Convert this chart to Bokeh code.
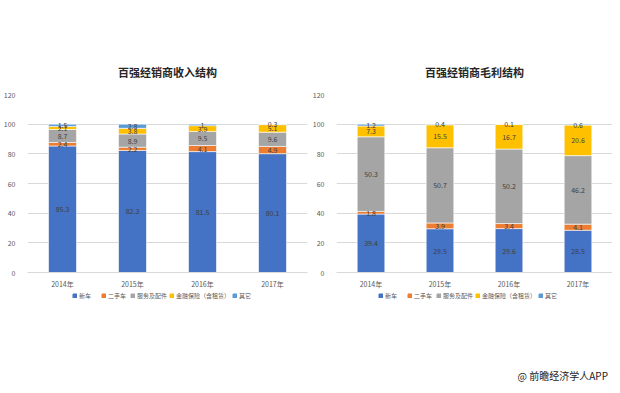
from bokeh.plotting import figure
from bokeh.models import ColumnDataSource, FixedTicker, Range1d, Legend, Div
from bokeh.layouts import row, column
from bokeh.core.properties import value
from bokeh.embed import file_html
from bokeh.resources import INLINE

years = ["2014年", "2015年", "2016年", "2017年"]
series_names = ["新车", "二手车", "服务及配件", "金融保险（含租赁）", "其它"]
colors = ["#4472C4", "#ED7D31", "#A5A5A5", "#FFC000", "#5B9BD5"]

# 百强经销商收入结构
rev_new = [85.3, 82.3, 81.5, 80.1]
rev_used = [2.4, 2.2, 4.1, 4.9]
rev_service = [8.7, 8.9, 9.5, 9.6]
rev_finance = [2.1, 3.8, 3.9, 5.1]
rev_other = [1.5, 2.8, 1.0, 0.3]

# 百强经销商毛利结构
gp_new = [39.4, 29.5, 29.6, 28.5]
gp_used = [1.8, 3.9, 3.4, 4.1]
gp_service = [50.3, 50.7, 50.2, 46.2]
gp_finance = [7.3, 15.5, 16.7, 20.6]
gp_other = [1.2, 0.4, 0.1, 0.6]

y_ticks = [0, 20, 40, 60, 80, 100, 120]

FONT = "Noto Sans CJK SC"
keys = ["s0", "s1", "s2", "s3", "s4"]


def make_chart(title, series, fw, min_left, min_right):
    data = {"year": years}
    for k, s in zip(keys, series):
        data[k] = s
    src = ColumnDataSource(data)
    p = figure(x_range=years, y_range=Range1d(0, 120),
               frame_width=fw, frame_height=178,
               output_backend="svg", toolbar_location=None, title=title,
               min_border_left=min_left, min_border_right=min_right,
               min_border_top=94, min_border_bottom=14)
    p.title.align = "center"
    p.title.text_font = FONT
    p.title.text_font_size = "11px"
    p.title.text_font_style = "bold"
    p.title.text_color = "#262626"
    p.title.standoff = 29
    p.vbar_stack(keys, x="year", width=0.4, source=src, color=colors,
                 line_color="white", line_width=0.6)
    lx, ly, lt = [], [], []
    for i, yr in enumerate(years):
        cum = 0.0
        for s in series:
            v = s[i]
            lx.append(yr)
            ly.append(cum + v / 2.0)
            lt.append(f"{v:g}")
            cum += v
    p.text(x=lx, y=ly, text=lt, text_align="center", text_baseline="middle",
           text_font=value(FONT), text_font_size="7px", text_color="#404040")
    p.yaxis.ticker = FixedTicker(ticks=y_ticks)
    p.ygrid.ticker = FixedTicker(ticks=y_ticks)
    p.ygrid.grid_line_color = "#D9D9D9"
    p.xgrid.grid_line_color = None
    p.yaxis.axis_line_color = None
    p.yaxis.major_tick_line_color = None
    p.yaxis.minor_tick_line_color = None
    p.xaxis.axis_line_color = "#D9D9D9"
    p.xaxis.major_tick_line_color = None
    p.xaxis.minor_tick_line_color = None
    p.xaxis.major_label_standoff = 0
    p.yaxis.major_label_standoff = 6
    for ax in (p.xaxis, p.yaxis):
        ax.major_label_text_font = FONT
        ax.major_label_text_font_size = "7px"
        ax.major_label_text_color = "#595959"
    p.outline_line_color = None
    return p


def make_legend(fw, min_left, min_right, legend_x):
    lp = figure(x_range=Range1d(0, 1), y_range=Range1d(0, 1),
                frame_width=fw, frame_height=12,
                output_backend="svg", toolbar_location=None,
                x_axis_type=None, y_axis_type=None,
                min_border_left=min_left, min_border_right=min_right,
                min_border_top=0, min_border_bottom=0)
    lp.grid.visible = False
    lp.outline_line_color = None
    # placeholder bars (zero height, outside the visible range) that only feed the legend swatches
    rs = [lp.vbar(x=[0.5], bottom=[-2], top=[-2], width=0.5, color=c) for c in colors]
    legend = Legend(items=[(n, [r]) for n, r in zip(series_names, rs)],
                    orientation="horizontal", location=(legend_x, 3),
                    glyph_width=5, glyph_height=5, label_height=8,
                    label_text_font=FONT, label_text_font_size="6px",
                    label_text_color="#595959", spacing=2, label_standoff=2,
                    padding=0, margin=0,
                    border_line_color=None, background_fill_alpha=0)
    lp.add_layout(legend)
    return lp


p1 = make_chart("百强经销商收入结构",
                [rev_new, rev_used, rev_service, rev_finance, rev_other],
                280, 20, 2)
p2 = make_chart("百强经销商毛利结构",
                [gp_new, gp_used, gp_service, gp_finance, gp_other],
                276, 25, 0)
l1 = make_legend(280, 20, 2, 52)
l2 = make_legend(276, 25, 0, 51)

div = Div(text="@ 前瞻经济学人APP", width=603, height=72,
          styles={"text-align": "right", "font-family": FONT, "font-size": "10px",
                  "color": "#222222", "padding-top": "61px",
                  "box-sizing": "border-box"})

layout = column(row(p1, p2), row(l1, l2), div)
open("out.html", "w").write(file_html(layout, INLINE))
